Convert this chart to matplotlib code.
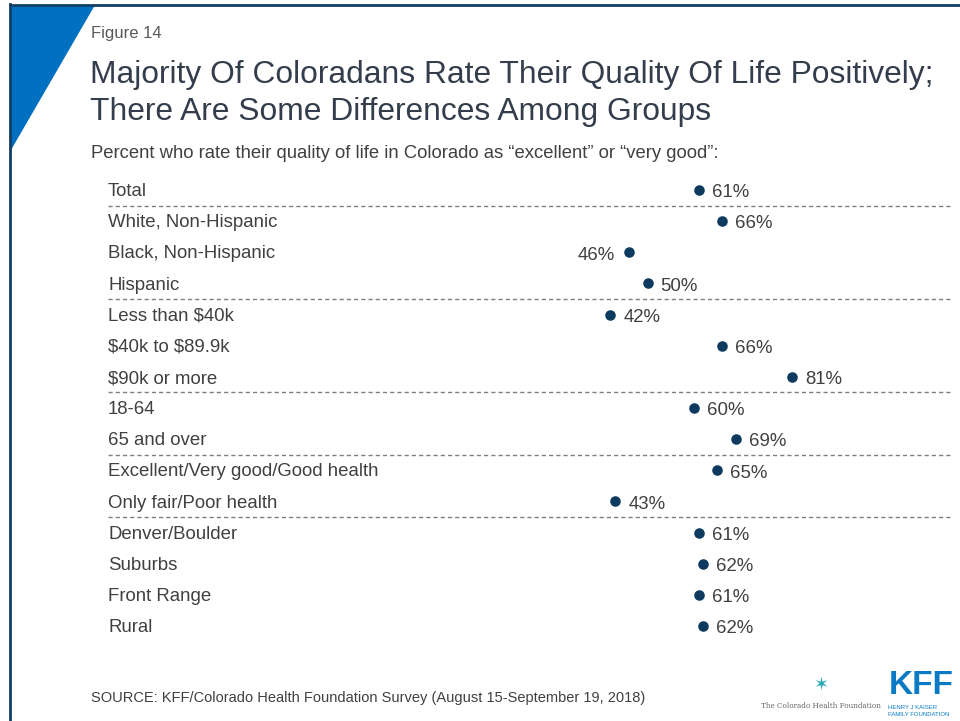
import matplotlib
matplotlib.use("Agg")
import matplotlib.pyplot as plt
from matplotlib.patches import Polygon
from matplotlib.lines import Line2D

plt.rcParams['font.family'] = ['Liberation Sans', 'DejaVu Sans']
plt.rcParams['text.parse_math'] = False

categories = ["Total", "White, Non-Hispanic", "Black, Non-Hispanic", "Hispanic",
              "Less than $40k", "$40k to $89.9k", "$90k or more",
              "18-64", "65 and over",
              "Excellent/Very good/Good health", "Only fair/Poor health",
              "Denver/Boulder", "Suburbs", "Front Range", "Rural"]
values = [61, 66, 46, 50, 42, 66, 81, 60, 69, 65, 43, 61, 62, 61, 62]
# labels that sit left of the dot
left_labels = ["Black, Non-Hispanic"]
# a dashed rule is drawn after these rows
group_ends = [0, 3, 6, 8, 10]

W, H = 960, 721
NAVY = "#0e3a5f"
TEXT = "#404040"
TITLE = "#333d4b"

fig = plt.figure(figsize=(W / 100, H / 100), dpi=100)

def fx(px):
    return px / W

def fy(py):
    return 1 - py / H

# pixel scale: 0% at x=415, 4.65 px per point; row 0 at y=190, 31.14 px per row
ax = fig.add_axes([0, 0, 1, 1])
ax.set_xlim(-415 / 4.65, (W - 415) / 4.65)
ax.set_ylim((H - 190) / 31.14, -190 / 31.14)
ax.axis("off")

rows = list(range(len(categories)))
ax.plot(values, rows, "o", color=NAVY, markersize=7.6, markeredgewidth=0)

ytr = ax.get_yaxis_transform()
for i, (cat, v) in enumerate(zip(categories, values)):
    ax.annotate(cat, (108 / W, i), xycoords=ytr, xytext=(0, -1.2),
                textcoords="offset points", ha="left", va="center",
                fontsize=13.4, color=TEXT)
    if cat in left_labels:
        ax.annotate(f"{v}%", (v, i), xytext=(-10, -2), textcoords="offset points",
                    ha="right", va="center", fontsize=13.4, color=TEXT)
    else:
        ax.annotate(f"{v}%", (v, i), xytext=(9.5, -2), textcoords="offset points",
                    ha="left", va="center", fontsize=13.4, color=TEXT)

for g in group_ends:
    ax.plot([108 / W, 950 / W], [g + 0.5, g + 0.5], transform=ytr,
            color="#7f7f7f", linewidth=1, dashes=(3, 2.2))

# frame and corner triangle
fig.patches.append(Polygon([(fx(11), fy(5)), (fx(95), fy(5)), (fx(11), fy(150))],
                           closed=True, transform=fig.transFigure,
                           facecolor="#0070c0", edgecolor="none"))
fig.lines.append(Line2D([fx(10), fx(10)], [fy(4), 0], transform=fig.transFigure,
                        color="#123e66", linewidth=2))
fig.lines.append(Line2D([fx(10), 1], [fy(5), fy(5)], transform=fig.transFigure,
                        color="#123e66", linewidth=2))

fig.text(fx(91), fy(38), "Figure 14", fontsize=12, color="#595959", va="baseline")
fig.text(fx(90), fy(83), "Majority Of Coloradans Rate Their Quality Of Life Positively;",
         fontsize=22.9, color=TITLE, va="baseline")
fig.text(fx(90), fy(120), "There Are Some Differences Among Groups",
         fontsize=22.9, color=TITLE, va="baseline")
fig.text(fx(91), fy(158),
         "Percent who rate their quality of life in Colorado as \u201cexcellent\u201d or \u201cvery good\u201d:",
         fontsize=13.3, color=TEXT, va="baseline")
fig.text(fx(91), fy(702),
         "SOURCE: KFF/Colorado Health Foundation Survey (August 15-September 19, 2018)",
         fontsize=10.5, color=TEXT, va="baseline")

# logos, roughly
fig.text(fx(821), fy(685), "\u2736", fontsize=13, color="#2aa8b5", ha="center", va="center")
fig.text(fx(821), fy(706), "The Colorado Health Foundation", fontsize=5.2,
         color="#666666", ha="center", va="center", family="DejaVu Serif")
fig.text(fx(921), fy(694), "KFF", fontsize=24, fontweight="bold", color="#0b7ac4",
         ha="center", va="baseline")
fig.text(fx(888), fy(709), "HENRY J KAISER", fontsize=4.3, color="#0b7ac4", va="baseline")
fig.text(fx(888), fy(716), "FAMILY FOUNDATION", fontsize=4.3, color="#0b7ac4", va="baseline")

fig.savefig("out.png", dpi=100)
